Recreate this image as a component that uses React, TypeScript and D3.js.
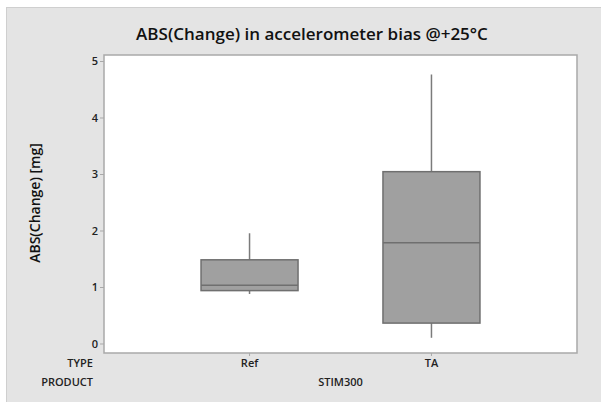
import React, { useEffect, useRef } from "react";
import * as d3 from "d3";

// Box plot summaries
const types = ["Ref", "TA"];
const product = "STIM300";
const whiskerLow = [0.885, 0.11];
const q1 = [0.945, 0.37];
const median = [1.04, 1.79];
const q3 = [1.49, 3.05];
const whiskerHigh = [1.96, 4.77];
const yTicks = [0, 1, 2, 3, 4, 5];

interface BoxRow {
  type: string;
  lo: number;
  q1: number;
  med: number;
  q3: number;
  hi: number;
}

const App: React.FC = () => {
  const svgRef = useRef<SVGSVGElement>(null);

  useEffect(() => {
    const rows: BoxRow[] = types.map((t, i) => ({
      type: t,
      lo: whiskerLow[i],
      q1: q1[i],
      med: median[i],
      q3: q3[i],
      hi: whiskerHigh[i],
    }));

    const width = 601;
    const height = 402;
    const plot = { left: 104, right: 577, top: 55, bottom: 353 };
    const font = "'Open Sans', 'Noto Sans', sans-serif";

    const svg = d3
      .select(svgRef.current)
      .attr("width", width)
      .attr("height", height);
    svg.selectAll("*").remove();

    // Background panel
    svg
      .append("rect")
      .attr("x", 6.5)
      .attr("y", 7.5)
      .attr("width", width - 6)
      .attr("height", height - 7)
      .attr("fill", "#e4e4e4")
      .attr("stroke", "#cfcfcf")
      .attr("stroke-width", 1);

    const xScale = d3
      .scalePoint<string>()
      .domain(types)
      .range([plot.left, plot.right])
      .padding(0.8);

    const yScale = d3.scaleLinear().domain([0, 5]).range([344, 61.5]);

    // Plot area
    svg
      .append("rect")
      .attr("x", plot.left)
      .attr("y", plot.top)
      .attr("width", plot.right - plot.left)
      .attr("height", plot.bottom - plot.top)
      .attr("fill", "#ffffff")
      .attr("stroke", "#a9a9a9")
      .attr("stroke-width", 1.5);

    // Y axis ticks + labels
    const yAxis = svg.append("g");
    yTicks.forEach((t) => {
      yAxis
        .append("line")
        .attr("x1", plot.left - 4)
        .attr("x2", plot.left)
        .attr("y1", yScale(t))
        .attr("y2", yScale(t))
        .attr("stroke", "#a9a9a9");
      yAxis
        .append("text")
        .attr("x", plot.left - 6)
        .attr("y", yScale(t))
        .attr("dy", "0.35em")
        .attr("text-anchor", "end")
        .style("font-family", font)
        .style("font-size", "11px")
        .style("font-weight", 600)
        .attr("fill", "#222")
        .text(t);
    });

    // Boxes
    const boxW = 97;
    rows.forEach((d) => {
      const cx = xScale(d.type)!;
      const g = svg.append("g");
      g.append("line")
        .attr("x1", cx)
        .attr("x2", cx)
        .attr("y1", yScale(d.hi))
        .attr("y2", yScale(d.q3))
        .attr("stroke", "#7b7b7b")
        .attr("stroke-width", 1.5);
      g.append("line")
        .attr("x1", cx)
        .attr("x2", cx)
        .attr("y1", yScale(d.q1))
        .attr("y2", yScale(d.lo))
        .attr("stroke", "#7b7b7b")
        .attr("stroke-width", 1.5);
      g.append("rect")
        .attr("x", cx - boxW / 2)
        .attr("y", yScale(d.q3))
        .attr("width", boxW)
        .attr("height", yScale(d.q1) - yScale(d.q3))
        .attr("fill", "#a0a0a0")
        .attr("stroke", "#6f6f6f")
        .attr("stroke-width", 1.5);
      g.append("line")
        .attr("x1", cx - boxW / 2)
        .attr("x2", cx + boxW / 2)
        .attr("y1", yScale(d.med))
        .attr("y2", yScale(d.med))
        .attr("stroke", "#6f6f6f")
        .attr("stroke-width", 1.5);

      // x tick + category label
      svg
        .append("line")
        .attr("x1", cx)
        .attr("x2", cx)
        .attr("y1", plot.bottom)
        .attr("y2", plot.bottom + 3)
        .attr("stroke", "#a9a9a9");
      svg
        .append("text")
        .attr("x", cx)
        .attr("y", 367)
        .attr("text-anchor", "middle")
        .style("font-family", font)
        .style("font-size", "11px")
        .style("font-weight", 600)
        .attr("fill", "#222")
        .text(d.type);
    });

    // Row labels
    const rowLabels: [string, number][] = [
      ["TYPE", 367],
      ["PRODUCT", 386],
    ];
    rowLabels.forEach(([label, y]) => {
      svg
        .append("text")
        .attr("x", 93)
        .attr("y", y)
        .attr("text-anchor", "end")
        .style("font-family", font)
        .style("font-size", "11px")
        .style("font-weight", 600)
        .attr("fill", "#222")
        .text(label);
    });

    // Product spans both types
    const mid = (xScale(types[0])! + xScale(types[types.length - 1])!) / 2;
    svg
      .append("text")
      .attr("x", mid)
      .attr("y", 386)
      .attr("text-anchor", "middle")
      .style("font-family", font)
      .style("font-size", "11px")
      .style("font-weight", 600)
      .attr("fill", "#222")
      .text(product);

    // Title
    svg
      .append("text")
      .attr("x", 312)
      .attr("y", 40)
      .attr("text-anchor", "middle")
      .style("font-family", font)
      .style("font-size", "17px")
      .style("font-weight", 600)
      .attr("fill", "#111")
      .text("ABS(Change) in accelerometer bias @+25°C");

    // Y label
    svg
      .append("text")
      .attr("text-anchor", "middle")
      .attr("transform", "translate(40, 203) rotate(-90)")
      .style("font-family", font)
      .style("font-size", "14px")
      .style("font-weight", 600)
      .attr("fill", "#111")
      .text("ABS(Change) [mg]");
  }, []);

  return (
    <svg
      ref={svgRef}
      style={{ position: "absolute", left: 0, top: 0, display: "block" }}
    />
  );
};

export default App;
